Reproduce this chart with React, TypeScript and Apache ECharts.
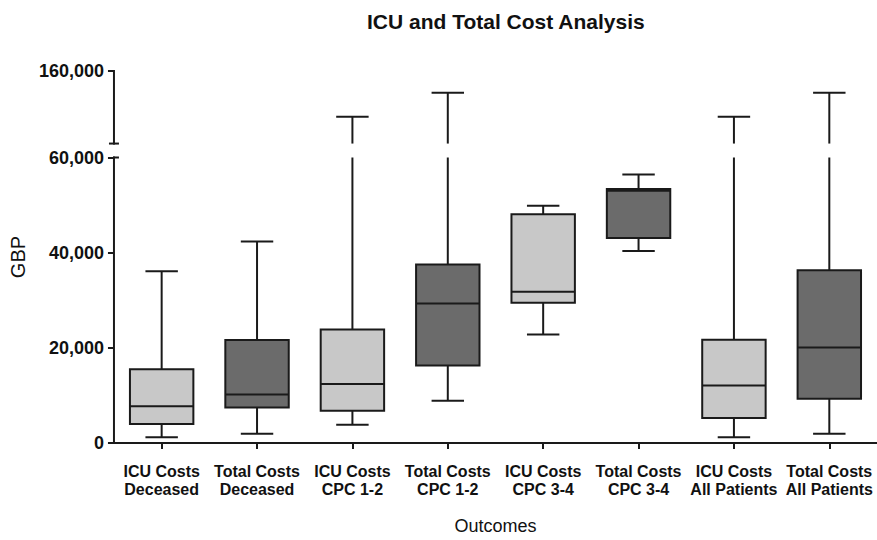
import { useEffect, useRef } from "react";
import * as echarts from "echarts";

// ---- Data (GBP) ----
const categories = [
  "ICU Costs\nDeceased",
  "Total Costs\nDeceased",
  "ICU Costs\nCPC 1-2",
  "Total Costs\nCPC 1-2",
  "ICU Costs\nCPC 3-4",
  "Total Costs\nCPC 3-4",
  "ICU Costs\nAll Patients",
  "Total Costs\nAll Patients",
];
const costType = ["ICU", "Total", "ICU", "Total", "ICU", "Total", "ICU", "Total"];
const whiskerLow = [1230, 1920, 3840, 8900, 22810, 40340, 1230, 1920];
const quartile1 = [3970, 7460, 6780, 16300, 29450, 43090, 5280, 9310];
const medians = [7740, 10210, 12400, 29320, 31800, 53000, 12060, 20070];
const quartile3 = [15480, 21640, 23840, 37540, 48080, 53400, 21720, 36300];
const whiskerHigh = [36100, 42330, 97000, 130000, 49870, 56440, 97000, 130000];
const yTickValues = [0, 20000, 40000, 60000, 160000];

// ---- Broken axis scale ----
const BREAK_AT = 60000;
const BREAK_GAP = 2930;
const UPPER_SCALE = 0.1525;
const AXIS_MAX = 160000;
const toDisplay = (v: number) =>
  v <= BREAK_AT ? v : BREAK_AT + BREAK_GAP + (v - BREAK_AT) * UPPER_SCALE;
const fromDisplay = (d: number) =>
  d <= BREAK_AT ? d : BREAK_AT + (d - BREAK_AT - BREAK_GAP) / UPPER_SCALE;

const FONT = '"Liberation Sans", Arial, Helvetica, sans-serif';
const INK = "#1a1a1a";
const fillFor: Record<string, string> = { ICU: "#c8c8c8", Total: "#6b6b6b" };

export default function App() {
  const ref = useRef<HTMLDivElement>(null);

  useEffect(() => {
    if (!ref.current) return;
    const chart = echarts.init(ref.current, undefined, { renderer: "svg" });

    const boxData = categories.map((_, i) => [
      i,
      toDisplay(whiskerLow[i]),
      toDisplay(quartile1[i]),
      toDisplay(medians[i]),
      toDisplay(quartile3[i]),
      toDisplay(whiskerHigh[i]),
    ]);
    const tickDisplay = yTickValues.map(toDisplay);
    const displayMax = toDisplay(AXIS_MAX);

    const lineStyle = { stroke: INK, lineWidth: 2 };

    const option: any = {
      animation: false,
      backgroundColor: "#ffffff",
      title: {
        text: "ICU and Total Cost Analysis",
        left: 362,
        top: 6,
        textStyle: { fontFamily: FONT, fontSize: 21, fontWeight: "bold", color: "#111" },
      },
      grid: { left: 113, top: 71, width: 770, height: 381 },
      xAxis: {
        type: "category",
        data: categories,
        boundaryGap: true,
        name: "Outcomes",
        nameLocation: "middle",
        nameGap: 74,
        nameTextStyle: { fontFamily: FONT, fontSize: 18, color: "#111" },
        axisLine: { show: true, lineStyle: { color: INK, width: 2 } },
        axisTick: { show: true, alignWithLabel: true, length: 6, lineStyle: { color: INK, width: 2 } },
        axisLabel: {
          interval: 0,
          margin: 19,
          fontFamily: FONT,
          fontSize: 16,
          fontWeight: "bold",
          lineHeight: 18,
          color: "#111",
        },
        splitLine: { show: false },
      },
      yAxis: {
        type: "value",
        min: 0,
        max: displayMax,
        name: "GBP",
        nameLocation: "middle",
        nameGap: 78,
        nameTextStyle: { fontFamily: FONT, fontSize: 20, color: "#111" },
        axisLine: { show: false },
        axisTick: {
          show: true,
          length: 6,
          customValues: tickDisplay,
          lineStyle: { color: INK, width: 2 },
        },
        axisLabel: {
          customValues: tickDisplay,
          margin: 10,
          fontFamily: FONT,
          fontSize: 18,
          fontWeight: "bold",
          color: "#111",
          formatter: (v: number) =>
            (Math.round(fromDisplay(v) / 1000) * 1000).toLocaleString("en-US"),
        },
        splitLine: { show: false },
      },
      series: [
        {
          type: "custom",
          name: "boxes",
          clip: false,
          silent: true,
          data: boxData,
          encode: { x: 0, y: [1, 2, 3, 4, 5] },
          renderItem: (params: any, api: any) => {
            const idx = api.value(0);
            const low = api.value(1);
            const q1 = api.value(2);
            const med = api.value(3);
            const q3 = api.value(4);
            const high = api.value(5);
            const band = api.size([1, 0])[0];
            const boxW = band * 0.665;
            const capHalf = band * 0.17;
            const cx = api.coord([idx, 0])[0];
            const yOf = (v: number) => api.coord([idx, v])[1];
            const children: any[] = [];
            const vline = (a: number, b: number) => ({
              type: "line",
              shape: { x1: cx, y1: yOf(a), x2: cx, y2: yOf(b) },
              style: lineStyle,
            });
            const cap = (v: number) => ({
              type: "line",
              shape: { x1: cx - capHalf, y1: yOf(v), x2: cx + capHalf, y2: yOf(v) },
              style: lineStyle,
            });
            children.push(vline(low, q1));
            children.push(cap(low));
            if (high > BREAK_AT) {
              children.push(vline(q3, BREAK_AT));
              children.push(vline(BREAK_AT + BREAK_GAP, high));
            } else {
              children.push(vline(q3, high));
            }
            children.push(cap(high));
            const type = costType[params.dataIndex];
            children.push({
              type: "rect",
              shape: { x: cx - boxW / 2, y: yOf(q3), width: boxW, height: yOf(q1) - yOf(q3) },
              style: { fill: fillFor[type], stroke: INK, lineWidth: 2 },
            });
            children.push({
              type: "line",
              shape: { x1: cx - boxW / 2, y1: yOf(med), x2: cx + boxW / 2, y2: yOf(med) },
              style: lineStyle,
            });
            return { type: "group", children };
          },
          z: 3,
        },
        {
          type: "custom",
          name: "brokenAxis",
          clip: false,
          silent: true,
          data: [[0, 0]],
          encode: { x: 0, y: 1 },
          renderItem: (params: any, api: any) => {
            const ax = params.coordSys.x;
            const y0 = api.coord([0, 0])[1];
            const yb = api.coord([0, BREAK_AT])[1];
            const yu = api.coord([0, BREAK_AT + BREAK_GAP])[1];
            const yt = api.coord([0, displayMax])[1];
            return {
              type: "group",
              children: [
                { type: "line", shape: { x1: ax, y1: y0 + 1, x2: ax, y2: yb - 1 }, style: lineStyle },
                { type: "line", shape: { x1: ax - 1, y1: yb, x2: ax + 5, y2: yb }, style: lineStyle },
                { type: "line", shape: { x1: ax, y1: yu + 1, x2: ax, y2: yt - 1 }, style: lineStyle },
                { type: "line", shape: { x1: ax - 5, y1: yu, x2: ax + 5, y2: yu }, style: lineStyle },
              ],
            };
          },
          z: 4,
        },
      ],
    };

    chart.setOption(option);
    return () => chart.dispose();
  }, []);

  return (
    <div
      ref={ref}
      style={{ position: "fixed", left: 0, top: 0, width: 877, height: 540, background: "#fff" }}
    />
  );
}
